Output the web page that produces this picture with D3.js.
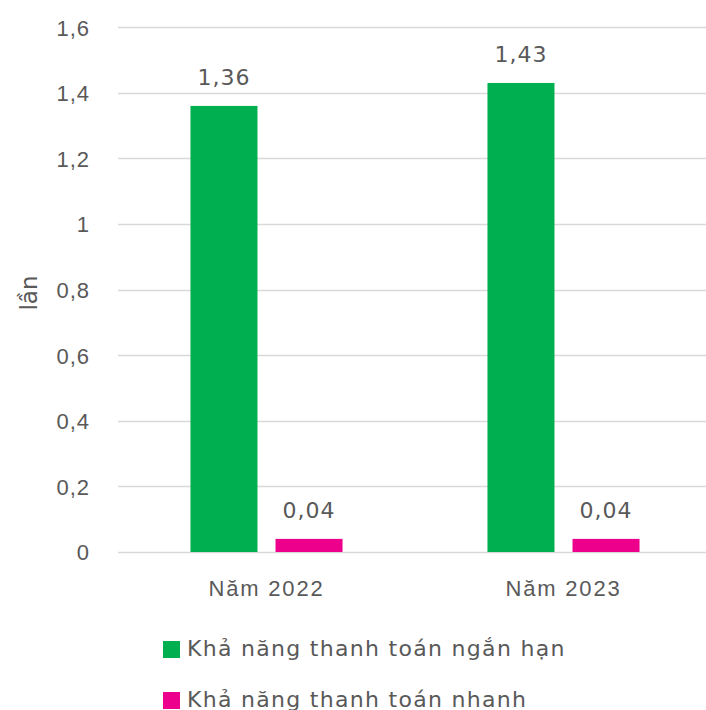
<!DOCTYPE html>
<html>
<head>
<meta charset="utf-8">
<script src="https://cdn.jsdelivr.net/npm/d3@7"></script>
<style>
  body { margin: 0; background: #fff; }
  svg { display: block; font-family: "DejaVu Sans", "Noto Sans", sans-serif; }
</style>
</head>
<body>
<div id="chart"></div>
<script>
var width = 706, height = 710;

// dati
var categories = ['Năm 2022', 'Năm 2023'];
var seriesNames = ['Khả năng thanh toán ngắn hạn', 'Khả năng thanh toán nhanh'];
var seriesColors = ['#00B050', '#EC008C'];
var shortTerm = [1.36, 1.43];
var quick = [0.04, 0.04];
var yTicks = [0, 0.2, 0.4, 0.6, 0.8, 1, 1.2, 1.4, 1.6];
var yLabel = 'lần';

var textColor = '#595959';
var fmt = v => String(v).replace('.', ',');

var svg = d3.select('#chart').append('svg')
    .attr('width', width)
    .attr('height', height);

// scale
var x0 = d3.scaleBand().domain(categories).range([118, 712]).paddingInner(0.488).paddingOuter(0.244);
var x1 = d3.scaleBand().domain([0, 1]).range([0, x0.bandwidth()]).paddingInner(0.212);
var y = d3.scaleLinear().domain([0, 1.6]).range([552, 27.2]);

// griglia
svg.append('g')
    .selectAll('line')
    .data(yTicks)
    .enter()
    .append('line')
    .attr('x1', 118)
    .attr('x2', width)
    .attr('y1', d => Math.round(y(d)) + 0.5)
    .attr('y2', d => Math.round(y(d)) + 0.5)
    .attr('stroke', '#d9d9d9')
    .attr('stroke-width', 1.5);

// asse y
var yAxis = svg.append('g')
    .attr('transform', 'translate(90,0)')
    .call(d3.axisLeft(y).tickValues(yTicks).tickFormat(fmt).tickSize(0).tickPadding(0));
yAxis.select('.domain').remove();
yAxis.selectAll('text')
    .attr('fill', textColor)
    .style('font-size', '22px')
    .style('letter-spacing', '1px')
    .attr('dy', '0.36em');

svg.append('text')
    .attr('transform', 'translate(37,293) rotate(-90)')
    .attr('text-anchor', 'middle')
    .attr('fill', textColor)
    .style('font-size', '23px')
    .text(yLabel);

// asse x
var xAxis = svg.append('g')
    .attr('transform', 'translate(0,552)')
    .call(d3.axisBottom(x0).tickSize(0).tickPadding(0));
xAxis.select('.domain').remove();
xAxis.selectAll('text')
    .attr('fill', textColor)
    .style('font-size', '22px')
    .style('letter-spacing', '1.8px')
    .attr('dy', '44px');

// barre
var series = [shortTerm, quick];
series.forEach((values, s) => {
    var g = svg.append('g');
    g.selectAll('rect')
        .data(values)
        .enter()
        .append('rect')
        .attr('x', (d, i) => x0(categories[i]) + x1(s))
        .attr('width', x1.bandwidth())
        .attr('y', d => y(d))
        .attr('height', d => y(0) - y(d))
        .attr('fill', seriesColors[s]);
    g.selectAll('text')
        .data(values)
        .enter()
        .append('text')
        .attr('x', (d, i) => x0(categories[i]) + x1(s) + x1.bandwidth() / 2)
        .attr('y', d => y(d) - 21)
        .attr('text-anchor', 'middle')
        .attr('fill', textColor)
        .style('font-size', '22px')
        .style('letter-spacing', '1px')
        .text(fmt);
});

// legenda
var legend = svg.append('g').attr('transform', 'translate(163,641)');
var item = legend.selectAll('g')
    .data(seriesNames)
    .enter()
    .append('g')
    .attr('transform', (d, i) => `translate(0,${i * 51})`);
item.append('rect')
    .attr('width', 17)
    .attr('height', 17)
    .attr('fill', (d, i) => seriesColors[i]);
item.append('text')
    .attr('x', 24)
    .attr('y', 15)
    .attr('fill', textColor)
    .style('font-size', '22px')
    .style('letter-spacing', '1.3px')
    .text(d => d);
</script>
</body>
</html>
